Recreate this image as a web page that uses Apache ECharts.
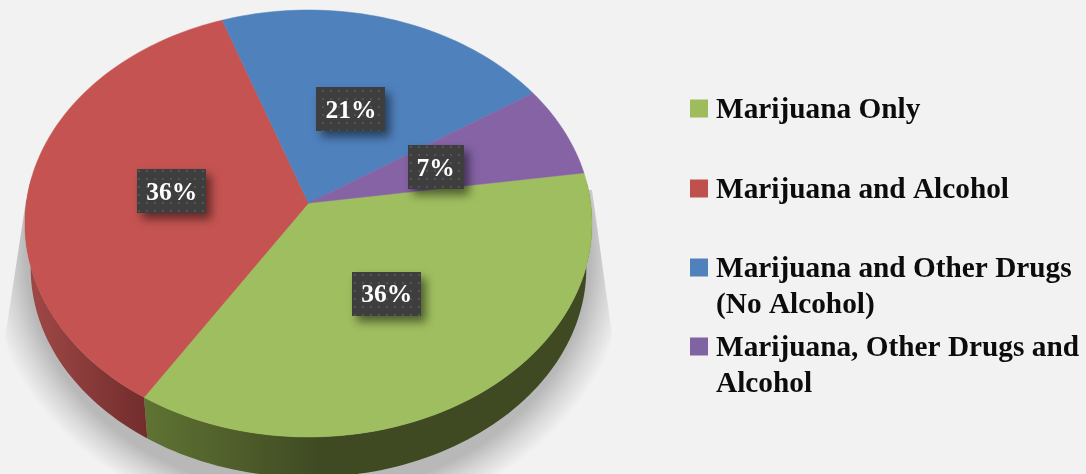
<!DOCTYPE html>
<html>
<head>
<meta charset="utf-8">
<style>html,body{margin:0;padding:0;background:#f2f2f2;overflow:hidden}#c{width:1086px;height:474px}</style>
<script src="https://cdn.jsdelivr.net/npm/echarts@6/dist/echarts.min.js"></script>
</head>
<body>
<div id="c"></div>
<script>
const categories = ['Marijuana Only', 'Marijuana and Alcohol', 'Marijuana and Other Drugs (No Alcohol)', 'Marijuana, Other Drugs and Alcohol'];
const values = [36.3, 35.6, 21.2, 6.9];
const labelTexts = ['36%', '36%', '21%', '7%'];
const faceColors = ['#9fbe5f', '#c45351', '#4f81bd', '#8563a5'];
const legendColors = ['#9fbc5d', '#c0504d', '#4f81bd', '#8064a2'];
const legendFirst = ['Marijuana Only', 'Marijuana and Alcohol', 'Marijuana and Other Drugs', 'Marijuana, Other Drugs and'];
const legendSecond = ['', '', '(No Alcohol)', 'Alcohol'];

// layout of the perspective disc
const CX = 308.5, CY = 203, A = 282.2, B = 211.5, C = 0.096, DEPTH = 45, BOT = 0.98;
const START = -8.3, FONT = '"Liberation Serif", serif';
const total = values.reduce((s, v) => s + v, 0);

function proj(deg, r) {
  const t = deg * Math.PI / 180, k = 1 - C * r * Math.sin(t);
  return [CX + A * r * Math.cos(t) / k, CY + B * r * Math.sin(t) / k];
}
function botRim(deg) {
  const p = proj(deg, 1);
  return [CX + (p[0] - CX) * BOT, CY + (p[1] - CY) * BOT + DEPTH];
}
function arc(from, to, fn) {
  const pts = [], n = Math.max(2, Math.ceil(Math.abs(to - from) / 1.5));
  for (let i = 0; i <= n; i++) pts.push(fn(from + (to - from) * i / n));
  return pts;
}
function span(i) {
  let s = START;
  for (let j = 0; j < i; j++) s += values[j] / total * 360;
  return [s, s + values[i] / total * 360];
}
const tile = document.createElement('canvas');
tile.width = tile.height = 8;
(function () {
  const g = tile.getContext('2d');
  g.fillStyle = '#3e3e3e'; g.fillRect(0, 0, 8, 8);
  g.fillStyle = '#535353'; g.fillRect(2, 2, 2, 2);
})();
const measure = document.createElement('canvas').getContext('2d');

const wallGrad = [
  { x: 147, x2: 320, stops: ['#5f7333', '#3f4a23'] },
  { x: 35, x2: 147, stops: ['#9d4745', '#712d2c'] }
];
const SH_CY = 255, SH_SY = 0.85;
const shadowOutline = [[26, 200], [5, 338], [40, 474], [575, 474], [612, 335], [592, 190]];

function renderItem(params, api) {
  const i = params.seriesIndex, kids = [];
  const [s, e] = span(i);
  if (i === 0) {
    kids.push({ type: 'polygon', z2: 0, originX: 0, originY: SH_CY, scaleX: 1, scaleY: SH_SY,
      shape: { points: shadowOutline.map(p => [p[0], SH_CY + (p[1] - SH_CY) / SH_SY]) },
      style: { fill: { type: 'radial', global: true, x: 308, y: SH_CY, r: 322,
        colorStops: [
          { offset: 0, color: 'rgba(0,0,0,0.24)' },
          { offset: 0.875, color: 'rgba(0,0,0,0.24)' },
          { offset: 0.93, color: 'rgba(0,0,0,0.12)' },
          { offset: 1, color: 'rgba(0,0,0,0)' }] } } });
  }
  if (i < wallGrad.length) {
    const a = Math.max(s, -6), b = Math.min(e, 187), g = wallGrad[i];
    const pts = arc(a, b, d => proj(d, 1)).concat(arc(b, a, botRim));
    kids.push({ type: 'polygon', z2: 2, shape: { points: pts },
      style: { fill: { type: 'linear', global: true, x: g.x, y: 0, x2: g.x2, y2: 0,
        colorStops: [{ offset: 0, color: g.stops[0] }, { offset: 1, color: g.stops[1] }] } } });
  }
  const face = [[CX, CY]].concat(arc(s, e, d => proj(d, 1)));
  kids.push({ type: 'polygon', z2: 3, shape: { points: face },
    style: { fill: faceColors[i], stroke: faceColors[i], lineWidth: 0.5 } });

  const txt = labelTexts[i];
  measure.font = 'bold 25.5px ' + FONT;
  const w = Math.round(measure.measureText(txt).width) + 18, h = 44;
  const c = proj((s + e) / 2, 0.49);
  kids.push({ type: 'rect', z2: 6,
    shape: { x: Math.round(c[0] - w / 2), y: Math.round(c[1] - h / 2), width: w, height: h },
    style: { fill: { image: tile, repeat: 'repeat' }, shadowBlur: 10, shadowOffsetX: 5, shadowOffsetY: 6, shadowColor: 'rgba(0,0,0,0.5)' } });
  kids.push({ type: 'text', z2: 7, x: c[0], y: c[1] + 2,
    style: { text: txt, fill: '#ffffff', font: 'bold 25.5px ' + FONT, align: 'center', verticalAlign: 'middle' } });
  return { type: 'group', children: kids };
}

const legendTops = [99, 179, 258, 337];
const chart = echarts.init(document.getElementById('c'), null, { renderer: 'canvas' });
chart.setOption({
  animation: false,
  backgroundColor: '#f2f2f2',
  legend: categories.map((n, i) => ({
    data: [n], left: 690, top: legendTops[i] - 7, padding: 0, selectedMode: false,
    icon: 'rect', itemWidth: 18, itemHeight: 18,
    formatter: () => '{a|' + legendFirst[i] + '}',
    textStyle: { rich: { a: { fontFamily: FONT, fontWeight: 'bold', fontSize: 29.3, color: '#0c0c0c', padding: [4, 0, 0, 3], lineHeight: 30 } } }
  })),
  series: categories.map((n, i) => ({
    type: 'custom', name: n, coordinateSystem: 'none', silent: true,
    itemStyle: { color: legendColors[i] },
    renderItem, data: [values[i]]
  })),
  graphic: legendSecond.map((t, i) => ({
    type: 'text', left: 716, top: legendTops[i] + 33, silent: true,
    style: { text: t, fill: '#0c0c0c', font: 'bold 29.3px ' + FONT }
  }))
});
</script>
</body>
</html>
